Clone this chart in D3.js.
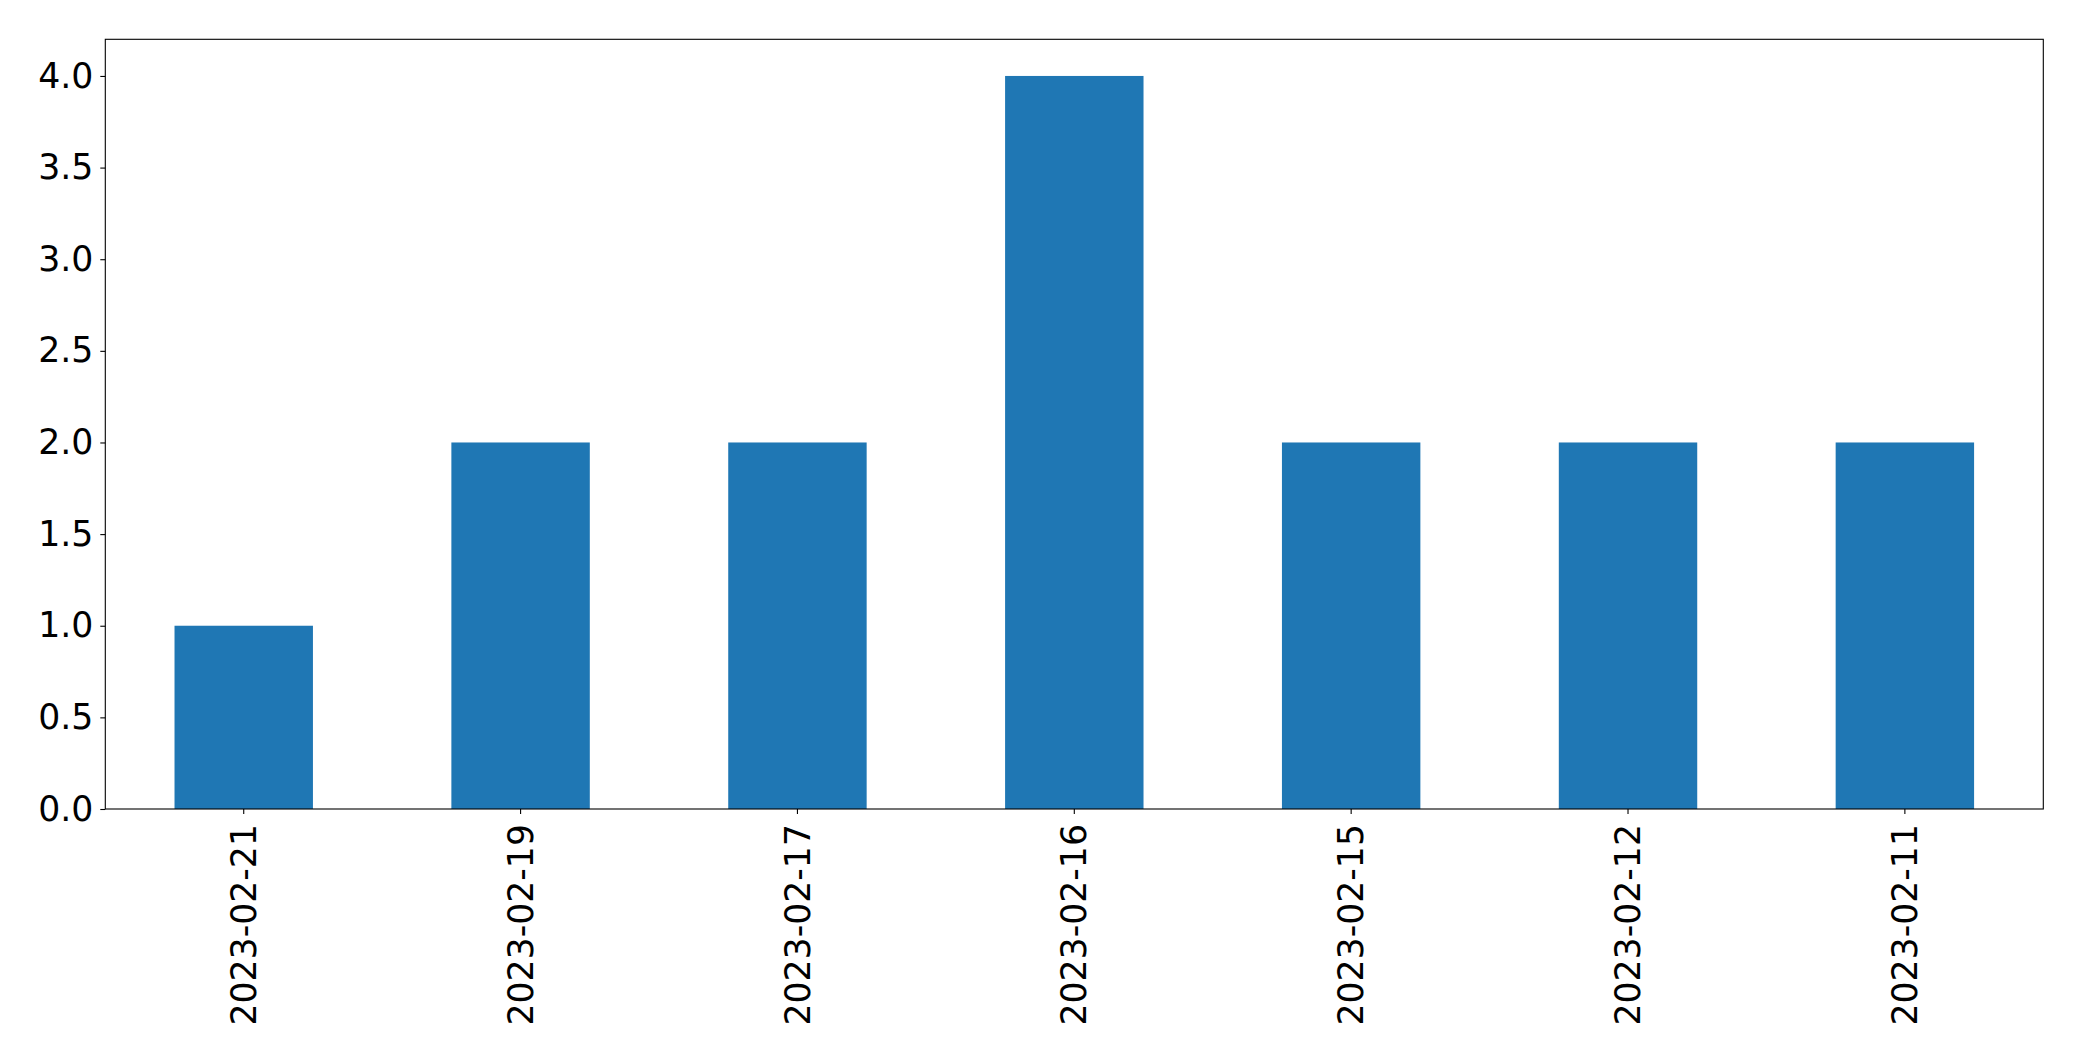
<!DOCTYPE html>
<html>
<head>
<meta charset="utf-8">
<script src="https://cdn.jsdelivr.net/npm/d3@7"></script>
<style>
  html, body { margin: 0; padding: 0; background: #fff; }
  svg { display: block; }
  text { font-family: "DejaVu Sans", sans-serif; fill: #000; }
</style>
</head>
<body>
<svg id="chart" width="2082" height="1061"></svg>
<script>
const categories = ["2023-02-21", "2023-02-19", "2023-02-17", "2023-02-16", "2023-02-15", "2023-02-12", "2023-02-11"];
const values = [1, 2, 2, 4, 2, 2, 2];
const yTicks = [0, 0.5, 1.0, 1.5, 2.0, 2.5, 3.0, 3.5, 4.0];

const W = 2082, H = 1061;
const margin = { left: 105.3, right: W - 2043.3, top: 39.3, bottom: H - 809 };
const svg = d3.select("#chart");
const fontSize = 34.7;

const x = d3.scaleBand()
  .domain(categories)
  .range([margin.left, W - margin.right])
  .paddingInner(0.5)
  .paddingOuter(0.25);

const y = d3.scaleLinear()
  .domain([0, 4.2])
  .range([H - margin.bottom, margin.top]);

// bars
svg.append("g")
  .selectAll("rect")
  .data(values)
  .join("rect")
  .attr("x", (d, i) => x(categories[i]))
  .attr("width", x.bandwidth())
  .attr("y", d => y(d))
  .attr("height", d => y(0) - y(d))
  .attr("fill", "#1f77b4");

// y axis
const yAxis = d3.axisLeft(y)
  .tickValues(yTicks)
  .tickFormat(d3.format(".1f"))
  .tickSize(5)
  .tickPadding(7);
const gy = svg.append("g")
  .attr("transform", `translate(${margin.left},0)`)
  .call(yAxis);
gy.select(".domain").remove();
gy.selectAll(".tick line").attr("stroke", "#000").attr("stroke-width", 1.1);
gy.selectAll(".tick text")
  .style("font-family", "'DejaVu Sans', sans-serif")
  .style("font-size", fontSize + "px")
  .attr("fill", "#000");

// x axis
const xAxis = d3.axisBottom(x).tickSize(5).tickPadding(0);
const gx = svg.append("g")
  .attr("transform", `translate(0,${H - margin.bottom})`)
  .call(xAxis);
gx.select(".domain").remove();
gx.selectAll(".tick line").attr("stroke", "#000").attr("stroke-width", 1.1);
gx.selectAll(".tick text")
  .style("font-family", "'DejaVu Sans', sans-serif")
  .style("font-size", fontSize + "px")
  .attr("fill", "#000")
  .attr("text-anchor", "end")
  .attr("dy", "0.35em")
  .attr("x", 0)
  .attr("y", 0)
  .attr("transform", "translate(0,15) rotate(-90)");

// frame
svg.append("rect")
  .attr("x", margin.left)
  .attr("y", margin.top)
  .attr("width", W - margin.left - margin.right)
  .attr("height", H - margin.top - margin.bottom)
  .attr("fill", "none")
  .attr("stroke", "#000")
  .attr("stroke-width", 1.1);
</script>
</body>
</html>
